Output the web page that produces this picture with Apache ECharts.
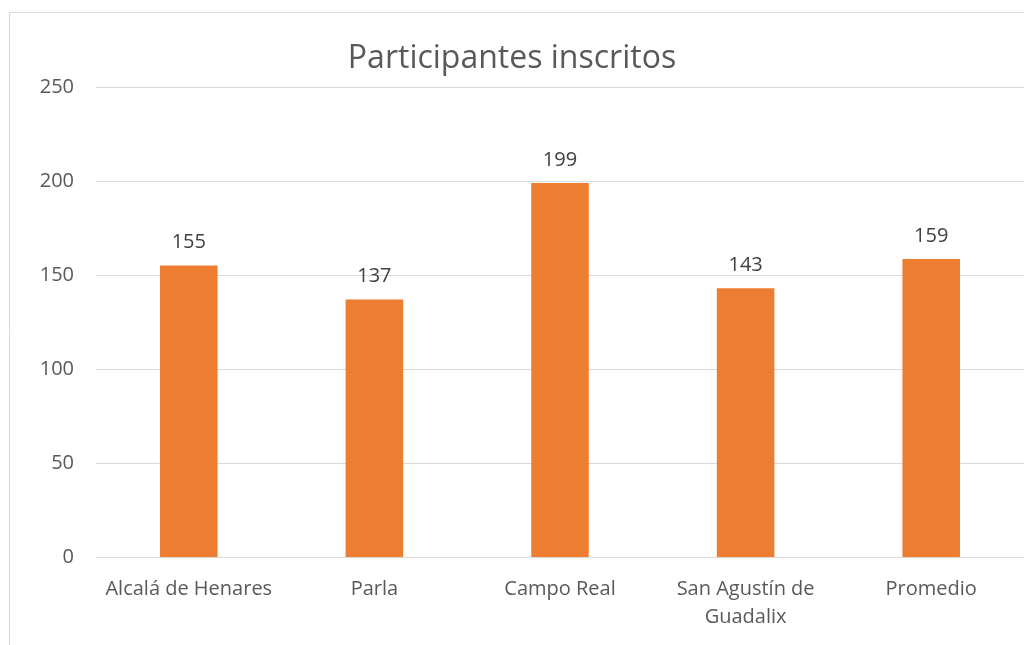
<!DOCTYPE html>
<html>
<head>
<meta charset="utf-8">
<script src="https://cdn.jsdelivr.net/npm/echarts@6/dist/echarts.min.js"></script>
<style>
  html, body { margin: 0; padding: 0; background: #fff; }
  #chart { width: 1024px; height: 645px; }
</style>
</head>
<body>
<div id="chart"></div>
<script>
const categories = ['Alcalá de Henares', 'Parla', 'Campo Real', 'San Agustín de\nGuadalix', 'Promedio']
const values = [155, 137, 199, 143, 158.5]
const yTicks = { min: 0, max: 250, interval: 50 }

const font = 'Open Sans'
const chart = echarts.init(document.getElementById('chart'))

chart.setOption({
  animation: false,
  title: {
    text: 'Participantes inscritos',
    left: 'center',
    top: 38,
    textStyle: { fontFamily: font, fontSize: 32, fontWeight: 'normal', color: '#595959' }
  },
  graphic: [{
    type: 'rect',
    shape: { x: 9.5, y: 12.5, width: 1100, height: 700 },
    style: { fill: 'none', stroke: '#d9d9d9', lineWidth: 1 },
    silent: true
  }],
  grid: { left: 96, right: -2, top: 87, bottom: 88, containLabel: false },
  xAxis: {
    type: 'category',
    data: categories,
    axisLine: { lineStyle: { color: '#d9d9d9', width: 1 } },
    axisTick: { show: false },
    axisLabel: {
      interval: 0,
      fontFamily: font,
      fontSize: 20,
      color: '#595959',
      margin: 18,
      lineHeight: 28
    }
  },
  yAxis: {
    type: 'value',
    min: yTicks.min,
    max: yTicks.max,
    interval: yTicks.interval,
    axisLine: { show: false },
    axisTick: { show: false },
    axisLabel: { fontFamily: font, fontSize: 20, color: '#595959', margin: 22 },
    splitLine: { lineStyle: { color: '#d9d9d9', width: 1 } }
  },
  series: [{
    type: 'bar',
    data: values,
    barWidth: '31%',
    itemStyle: { color: '#ED7D31' },
    label: {
      show: true,
      position: 'top',
      distance: 13,
      fontFamily: font,
      fontSize: 20,
      color: '#404040',
      formatter: (p) => Math.round(p.value)
    }
  }]
})
</script>
</body>
</html>
